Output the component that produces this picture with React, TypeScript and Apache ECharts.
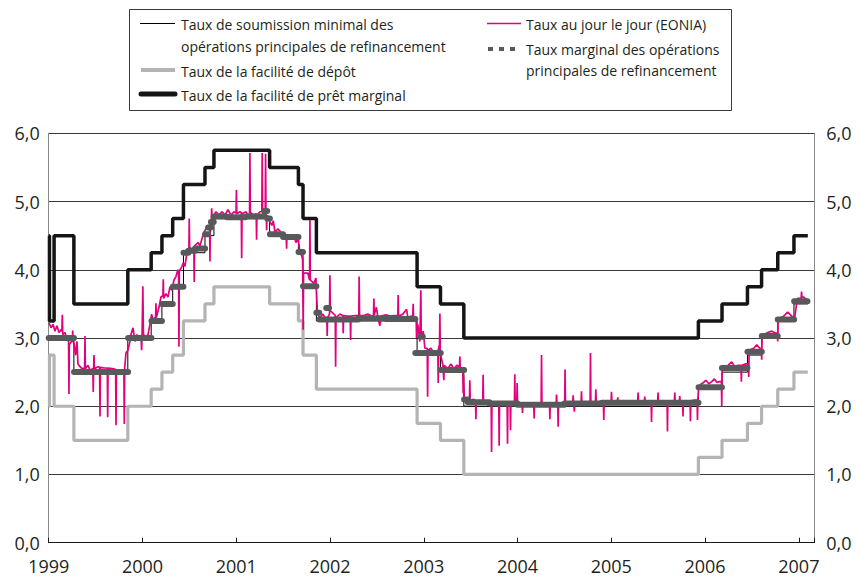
import React, { useEffect, useRef } from 'react';
import * as echarts from 'echarts';

// ---- ECB policy rates (step functions) ----
const policyDates = [
  '1999-01-01', '1999-01-04', '1999-01-22', '1999-04-09', '1999-11-05',
  '2000-02-04', '2000-03-17', '2000-04-28', '2000-06-09', '2000-09-01',
  '2000-10-06', '2001-05-11', '2001-08-31', '2001-09-18', '2001-11-09',
  '2002-12-06', '2003-03-07', '2003-06-06', '2005-12-06', '2006-03-08',
  '2006-06-15', '2006-08-09', '2006-10-11', '2006-12-13', '2007-02-05',
];
const mroRates = [3.0, 3.0, 3.0, 2.5, 3.0, 3.25, 3.5, 3.75, 4.25, 4.5, 4.75, 4.5, 4.25, 3.75, 3.25, 2.75, 2.5, 2.0, 2.25, 2.5, 2.75, 3.0, 3.25, 3.5, 3.5];
const depositRates = [2.0, 2.75, 2.0, 1.5, 2.0, 2.25, 2.5, 2.75, 3.25, 3.5, 3.75, 3.5, 3.25, 2.75, 2.25, 1.75, 1.5, 1.0, 1.25, 1.5, 1.75, 2.0, 2.25, 2.5, 2.5];
const lendingRates = [4.5, 3.25, 4.5, 3.5, 4.0, 4.25, 4.5, 4.75, 5.25, 5.5, 5.75, 5.5, 5.25, 4.75, 4.25, 3.75, 3.5, 3.0, 3.25, 3.5, 3.75, 4.0, 4.25, 4.5, 4.5];

// ---- Marginal rate of main refinancing operations (segments, decimal years) ----
const marginalStart = [
  1999.000, 1999.270, 1999.847, 2000.096, 2000.208, 2000.323, 2000.437, 2000.490, 2000.560, 2000.668,
  2000.700, 2000.730, 2000.760, 2000.900, 2001.100, 2001.300, 2001.330, 2001.359, 2001.500, 2001.664,
  2001.712, 2001.855, 2001.885, 2001.960, 2001.990, 2002.300, 2002.600, 2002.910, 2002.965, 2002.990,
  2003.181, 2003.430, 2003.470, 2003.700, 2004.000, 2004.500, 2004.900, 2005.500, 2005.930, 2006.180,
  2006.452, 2006.605, 2006.775, 2006.950,
];
const marginalEnd = 2007.092;
const marginalRates = [
  3.00, 2.50, 3.00, 3.25, 3.50, 3.75, 4.25, 4.28, 4.31, 4.52,
  4.62, 4.70, 4.78, 4.77, 4.78, 4.86, 4.75, 4.52, 4.48, 4.26,
  3.76, 3.37, 3.27, 3.44, 3.27, 3.29, 3.28, 2.78, 3.02, 2.78,
  2.53, 2.10, 2.06, 2.04, 2.02, 2.04, 2.05, 2.05, 2.28, 2.56,
  2.80, 3.03, 3.27, 3.54,
];

// ---- EONIA, [decimal year, rate] ----
const eonia1999 = [
  [1999.003, 3.22], [1999.025, 3.15], [1999.046, 3.20], [1999.067, 3.10], [1999.088, 3.18], [1999.110, 3.08],
  [1999.131, 3.12], [1999.141, 3.10], [1999.145, 3.34], [1999.150, 3.05], [1999.174, 3.08], [1999.195, 2.98],
  [1999.212, 2.95], [1999.216, 2.18], [1999.220, 2.90], [1999.243, 2.95], [1999.252, 2.95], [1999.256, 3.11],
  [1999.260, 2.95], [1999.270, 2.92], [1999.286, 2.75], [1999.302, 2.95], [1999.312, 2.62], [1999.334, 2.58],
  [1999.355, 2.55], [1999.383, 2.56], [1999.387, 3.03], [1999.391, 2.55], [1999.419, 2.60], [1999.440, 2.53],
  [1999.471, 2.55], [1999.475, 2.21], [1999.479, 2.55], [1999.483, 2.75], [1999.487, 2.55], [1999.526, 2.58],
  [1999.543, 2.57], [1999.547, 1.85], [1999.551, 2.57], [1999.590, 2.56], [1999.625, 2.56], [1999.629, 1.84],
  [1999.633, 2.56], [1999.675, 2.55], [1999.714, 2.54], [1999.718, 1.72], [1999.722, 2.52], [1999.760, 2.50],
  [1999.802, 2.52], [1999.806, 1.74], [1999.810, 2.55], [1999.824, 2.78], [1999.845, 2.82], [1999.867, 2.95],
  [1999.877, 3.05], [1999.899, 3.15], [1999.920, 2.95], [1999.941, 3.05], [1999.963, 3.00], [1999.985, 3.00],
  [1999.991, 2.82], [1999.996, 3.05],
];
const eonia2000 = [
  [2000.004, 3.76], [2000.010, 3.05], [2000.037, 3.02], [2000.059, 3.05], [2000.080, 3.20], [2000.098, 3.35],
  [2000.112, 3.25], [2000.133, 3.30], [2000.140, 3.28], [2000.144, 3.51], [2000.148, 3.30], [2000.176, 3.45],
  [2000.197, 3.60], [2000.218, 3.62], [2000.222, 3.86], [2000.226, 3.58], [2000.251, 3.65], [2000.272, 3.60],
  [2000.293, 3.75], [2000.314, 3.70], [2000.336, 3.85], [2000.357, 3.90], [2000.378, 4.00], [2000.385, 3.98],
  [2000.389, 2.87], [2000.393, 3.98], [2000.421, 4.05], [2000.435, 4.10], [2000.453, 4.05], [2000.474, 4.25],
  [2000.495, 4.28], [2000.499, 4.75], [2000.503, 4.33], [2000.528, 4.30], [2000.548, 4.32], [2000.552, 3.82],
  [2000.556, 4.35], [2000.592, 4.40], [2000.613, 4.35], [2000.634, 4.45], [2000.656, 4.55], [2000.677, 4.60],
  [2000.698, 4.65], [2000.716, 4.63], [2000.720, 4.12], [2000.724, 4.68], [2000.734, 4.72], [2000.738, 4.90],
  [2000.742, 4.76], [2000.784, 4.85], [2000.816, 4.80], [2000.848, 4.85], [2000.880, 4.80], [2000.912, 4.88],
  [2000.944, 4.80], [2000.976, 4.85], [2000.998, 4.83],
];
const eonia2001 = [
  [2001.002, 5.17], [2001.006, 4.82], [2001.039, 4.85], [2001.054, 4.84], [2001.058, 4.17], [2001.062, 4.82],
  [2001.103, 4.85], [2001.124, 4.80], [2001.142, 4.82], [2001.146, 5.71], [2001.150, 4.84], [2001.188, 4.80],
  [2001.213, 4.82], [2001.217, 4.44], [2001.221, 4.80], [2001.253, 4.85], [2001.273, 4.85], [2001.277, 5.71],
  [2001.281, 4.88], [2001.290, 4.90], [2001.309, 4.85], [2001.313, 5.70], [2001.317, 4.82], [2001.321, 4.80],
  [2001.324, 4.58], [2001.328, 4.80], [2001.338, 4.78], [2001.359, 4.70], [2001.381, 4.65], [2001.395, 4.72],
  [2001.413, 4.55], [2001.445, 4.60], [2001.477, 4.55], [2001.509, 4.50], [2001.533, 4.50], [2001.537, 4.31],
  [2001.541, 4.50], [2001.583, 4.45], [2001.615, 4.50], [2001.637, 4.40], [2001.661, 4.46], [2001.679, 4.25],
  [2001.700, 4.20], [2001.708, 4.15], [2001.714, 3.12], [2001.718, 3.95], [2001.764, 3.95], [2001.782, 3.85],
  [2001.786, 4.73], [2001.790, 3.85], [2001.828, 3.80], [2001.850, 3.88], [2001.866, 3.35], [2001.892, 3.30],
  [2001.924, 3.35], [2001.946, 3.30], [2001.966, 3.30], [2001.970, 3.03], [2001.974, 3.30], [2001.995, 3.35],
  [2001.999, 3.92],
];
const eonia2002 = [
  [2002.003, 3.40], [2002.042, 3.35], [2002.056, 3.33], [2002.060, 2.58], [2002.064, 3.30], [2002.106, 3.35],
  [2002.137, 3.33], [2002.141, 3.07], [2002.145, 3.33], [2002.180, 3.32], [2002.216, 3.32], [2002.220, 2.97],
  [2002.224, 3.32], [2002.265, 3.33], [2002.307, 3.33], [2002.311, 3.90], [2002.315, 3.33], [2002.361, 3.33],
  [2002.404, 3.35], [2002.447, 3.32], [2002.464, 3.32], [2002.468, 3.58], [2002.472, 3.34], [2002.495, 3.45],
  [2002.511, 3.30], [2002.532, 3.18], [2002.548, 3.32], [2002.596, 3.34], [2002.639, 3.32], [2002.681, 3.33],
  [2002.723, 3.33], [2002.727, 3.63], [2002.731, 3.32], [2002.777, 3.35], [2002.817, 3.42], [2002.830, 3.30],
  [2002.862, 3.32], [2002.883, 3.32], [2002.887, 3.50], [2002.891, 3.30], [2002.919, 3.28], [2002.923, 3.00],
  [2002.927, 3.15], [2002.937, 3.20], [2002.958, 2.95], [2002.965, 2.95], [2002.969, 3.70], [2002.973, 3.00],
  [2002.994, 3.10],
];
const eonia2003 = [
  [2003.012, 2.85], [2003.037, 2.85], [2003.041, 2.14], [2003.045, 2.82], [2003.076, 2.85], [2003.100, 2.80],
  [2003.129, 2.80], [2003.150, 2.82], [2003.154, 2.34], [2003.158, 2.85], [2003.168, 2.90], [2003.172, 3.36],
  [2003.176, 2.78], [2003.204, 2.60], [2003.210, 2.60], [2003.214, 2.38], [2003.218, 2.60], [2003.257, 2.55],
  [2003.289, 2.62], [2003.321, 2.55], [2003.353, 2.60], [2003.381, 2.58], [2003.385, 2.73], [2003.389, 2.55],
  [2003.416, 2.55], [2003.420, 2.19], [2003.424, 2.45], [2003.433, 2.10], [2003.459, 2.08], [2003.487, 2.08],
  [2003.491, 2.38], [2003.495, 2.09], [2003.534, 2.10], [2003.552, 2.08], [2003.556, 1.81], [2003.560, 2.08],
  [2003.598, 2.07], [2003.629, 2.07], [2003.633, 2.46], [2003.637, 2.07], [2003.683, 2.06], [2003.719, 2.06],
  [2003.723, 1.33], [2003.727, 2.06], [2003.769, 2.05], [2003.800, 2.05], [2003.804, 1.42], [2003.808, 2.05],
  [2003.854, 2.06], [2003.889, 2.06], [2003.893, 1.45], [2003.897, 2.05], [2003.921, 2.05], [2003.925, 1.65],
  [2003.929, 2.05], [2003.967, 2.05], [2003.971, 2.47], [2003.975, 2.05], [2003.992, 2.05], [2003.996, 2.34],
];
const eonia2004 = [
  [2004.000, 2.05], [2004.049, 2.04], [2004.053, 1.90], [2004.057, 2.04], [2004.110, 2.03], [2004.142, 2.05],
  [2004.173, 2.04], [2004.177, 1.82], [2004.181, 2.04], [2004.216, 2.05], [2004.252, 2.04], [2004.256, 2.75],
  [2004.260, 2.04], [2004.302, 2.03], [2004.341, 2.03], [2004.345, 1.81], [2004.349, 2.04], [2004.398, 2.05],
  [2004.412, 2.05], [2004.416, 2.17], [2004.420, 2.05], [2004.429, 2.05], [2004.433, 1.70], [2004.437, 2.05],
  [2004.472, 2.04], [2004.503, 2.04], [2004.507, 2.54], [2004.511, 2.05], [2004.558, 2.05], [2004.589, 2.05],
  [2004.593, 2.16], [2004.597, 2.05], [2004.602, 2.05], [2004.606, 1.92], [2004.610, 2.05], [2004.678, 2.05],
  [2004.682, 2.22], [2004.686, 2.05], [2004.739, 2.06], [2004.774, 2.06], [2004.778, 2.78], [2004.782, 2.06],
  [2004.831, 2.06], [2004.835, 2.25], [2004.839, 2.06], [2004.888, 2.07], [2004.916, 2.07], [2004.920, 1.80],
  [2004.924, 2.07], [2004.963, 2.07], [2004.998, 2.07],
];
const eonia2005 = [
  [2005.002, 2.21], [2005.006, 2.08], [2005.065, 2.07], [2005.069, 2.13], [2005.073, 2.07], [2005.133, 2.07],
  [2005.197, 2.08], [2005.282, 2.08], [2005.286, 2.20], [2005.290, 2.07], [2005.353, 2.07], [2005.357, 2.14],
  [2005.361, 2.07], [2005.425, 2.07], [2005.429, 1.77], [2005.433, 2.07], [2005.495, 2.07], [2005.499, 2.20],
  [2005.503, 2.07], [2005.560, 2.07], [2005.595, 2.07], [2005.599, 1.63], [2005.603, 2.07], [2005.673, 2.07],
  [2005.677, 2.20], [2005.681, 2.07], [2005.726, 2.07], [2005.730, 2.15], [2005.734, 2.07], [2005.761, 2.07],
  [2005.765, 1.85], [2005.769, 2.08], [2005.816, 2.08], [2005.840, 2.08], [2005.844, 1.78], [2005.848, 2.08],
  [2005.890, 2.09], [2005.915, 2.09], [2005.919, 1.80], [2005.923, 2.09], [2005.933, 2.28], [2005.952, 2.32],
  [2005.976, 2.34],
];
const eonia2006 = [
  [2006.008, 2.38], [2006.040, 2.33], [2006.072, 2.36], [2006.099, 2.40], [2006.125, 2.35], [2006.157, 2.36],
  [2006.174, 2.36], [2006.178, 2.00], [2006.182, 2.55], [2006.231, 2.58], [2006.284, 2.65], [2006.317, 2.58],
  [2006.349, 2.60], [2006.383, 2.60], [2006.387, 2.36], [2006.391, 2.60], [2006.434, 2.62], [2006.462, 2.62],
  [2006.466, 2.43], [2006.470, 2.82], [2006.519, 2.85], [2006.551, 2.90], [2006.582, 2.85], [2006.600, 2.85],
  [2006.604, 2.68], [2006.608, 3.03], [2006.668, 3.08], [2006.711, 3.10], [2006.754, 3.07], [2006.771, 3.07],
  [2006.775, 2.95], [2006.779, 3.28], [2006.839, 3.32], [2006.881, 3.38], [2006.924, 3.32], [2006.956, 3.30],
  [2006.984, 3.58],
];
const eonia2007 = [
  [2007.025, 3.58], [2007.029, 3.68], [2007.033, 3.60], [2007.052, 3.60], [2007.074, 3.57], [2007.089, 3.57],
];

const yearTicks = ['1999', '2000', '2001', '2002', '2003', '2004', '2005', '2006', '2007'];

function toYear(d: string): number {
  const [y, m, dd] = d.split('-').map(Number);
  const start = Date.UTC(y, 0, 1);
  const end = Date.UTC(y + 1, 0, 1);
  return y + (Date.UTC(y, m - 1, dd) - start) / (end - start);
}

const FONT = '"Open Sans", "Noto Sans", sans-serif';
const TXT = '#231f20';
const PINK = '#e4007c';
const DARK = '#58595b';
const LIGHT = '#b4b4b4';

function buildOption() {
  const policyX = policyDates.map(toYear);
  const stepData = (vals: number[]) => policyX.map((x, i) => [x, vals[i]]);
  const marginalData: any[] = [];
  marginalStart.forEach((s, i) => {
    const e = i < marginalStart.length - 1 ? marginalStart[i + 1] : marginalEnd;
    marginalData.push([s, marginalRates[i]], [e, marginalRates[i]], [e, '-']);
  });
  const eoniaData = [
    ...eonia1999, ...eonia2000, ...eonia2001, ...eonia2002,
    ...eonia2003, ...eonia2004, ...eonia2005, ...eonia2006, ...eonia2007,
  ];

  const yFmt = (v: number) => v.toFixed(1).replace('.', ',');
  const firstYear = Number(yearTicks[0]);

  const legendText = (x: number, y: number, text: string) => ({
    type: 'text', x, y, silent: true,
    style: { text, fontSize: 14, fontFamily: FONT, fill: TXT, verticalAlign: 'middle', align: 'left' },
  });

  return {
    animation: false,
    backgroundColor: '#ffffff',
    grid: { left: 48.7, right: 42.7, top: 133.3, bottom: 34.3, containLabel: false },
    xAxis: {
      type: 'value',
      min: firstYear,
      max: 2007.165,
      interval: 1,
      axisLine: { show: true, lineStyle: { color: '#1a1a1a', width: 1 } },
      axisTick: { show: true, inside: true, length: 5, lineStyle: { color: '#1a1a1a', width: 1 } },
      splitLine: { show: false },
      axisLabel: {
        margin: 14,
        fontSize: 18,
        lineHeight: 18,
        fontFamily: FONT,
        color: TXT,
        formatter: (v: number) => {
          const k = Math.round(v - firstYear);
          return Math.abs(v - firstYear - k) < 1e-6 && yearTicks[k] ? yearTicks[k] : '';
        },
      },
    },
    yAxis: [
      {
        type: 'value', min: 0, max: 6, interval: 1, position: 'left',
        axisLine: { show: true, lineStyle: { color: '#8a8a8a', width: 1 } },
        axisTick: { show: false },
        splitLine: { show: true, lineStyle: { color: '#3a3a3a', width: 1 } },
        axisLabel: { margin: 9, fontSize: 18, fontFamily: FONT, color: TXT, formatter: yFmt },
      },
      {
        type: 'value', min: 0, max: 6, interval: 1, position: 'right',
        axisLine: { show: true, lineStyle: { color: '#8a8a8a', width: 1 } },
        axisTick: { show: false },
        splitLine: { show: false },
        axisLabel: { margin: 12, fontSize: 18, fontFamily: FONT, color: TXT, formatter: yFmt },
      },
    ],
    series: [
      {
        name: 'Taux de la facilité de dépôt', type: 'line', step: 'end', data: stepData(depositRates),
        showSymbol: false, symbol: 'none', silent: true,
        lineStyle: { color: LIGHT, width: 3.2 },
      },
      {
        name: 'Taux de la facilité de prêt marginal', type: 'line', step: 'end', data: stepData(lendingRates),
        showSymbol: false, symbol: 'none', silent: true,
        lineStyle: { color: '#151515', width: 3.5 },
      },
      {
        name: 'Taux de soumission minimal des opérations principales de refinancement', type: 'line', step: 'end',
        data: stepData(mroRates), showSymbol: false, symbol: 'none', silent: true,
        lineStyle: { color: '#000000', width: 1 },
      },
      {
        name: 'Taux au jour le jour (EONIA)', type: 'line', data: eoniaData,
        showSymbol: false, symbol: 'none', silent: true,
        lineStyle: { color: PINK, width: 1.7 },
      },
      {
        name: 'Taux marginal des opérations principales de refinancement', type: 'line', data: marginalData,
        showSymbol: false, symbol: 'none', silent: true, connectNulls: false,
        lineStyle: { color: DARK, width: 6, cap: 'round' },
      },
    ],
    graphic: [
      {
        type: 'rect', silent: true,
        shape: { x: 129.5, y: 9.5, width: 602, height: 101 },
        style: { fill: 'none', stroke: '#3a3a3a', lineWidth: 1 },
      },
      // left column
      { type: 'line', silent: true, shape: { x1: 140, y1: 23.5, x2: 175, y2: 23.5 }, style: { stroke: '#000', lineWidth: 1 } },
      legendText(181, 24, 'Taux de soumission minimal des'),
      legendText(181, 46, 'opérations principales de refinancement'),
      { type: 'line', silent: true, shape: { x1: 141, y1: 70, x2: 175, y2: 70 }, style: { stroke: LIGHT, lineWidth: 4 } },
      legendText(181, 71, 'Taux de la facilité de dépôt'),
      { type: 'line', silent: true, shape: { x1: 141, y1: 94, x2: 175, y2: 94 }, style: { stroke: '#151515', lineWidth: 5, lineCap: 'round' } },
      legendText(181, 95, 'Taux de la facilité de prêt marginal'),
      // right column
      { type: 'line', silent: true, shape: { x1: 487, y1: 23.5, x2: 521, y2: 23.5 }, style: { stroke: PINK, lineWidth: 1.5 } },
      legendText(526, 24, 'Taux au jour le jour (EONIA)'),
      { type: 'rect', silent: true, shape: { x: 488, y: 47, width: 5, height: 4 }, style: { fill: DARK } },
      { type: 'rect', silent: true, shape: { x: 499, y: 47, width: 5, height: 4 }, style: { fill: DARK } },
      { type: 'rect', silent: true, shape: { x: 510, y: 47, width: 5, height: 4 }, style: { fill: DARK } },
      legendText(526, 49, 'Taux marginal des opérations'),
      legendText(526, 70, 'principales de refinancement'),
    ],
  };
}

export default function App() {
  const ref = useRef<HTMLDivElement>(null);
  useEffect(() => {
    if (!ref.current) return;
    const chart = echarts.init(ref.current, null, { renderer: 'svg' });
    chart.setOption(buildOption() as any);
    return () => chart.dispose();
  }, []);
  return (
    <div
      ref={ref}
      style={{ position: 'absolute', left: 0, top: 0, width: 857, height: 577, background: '#fff' }}
    />
  );
}
